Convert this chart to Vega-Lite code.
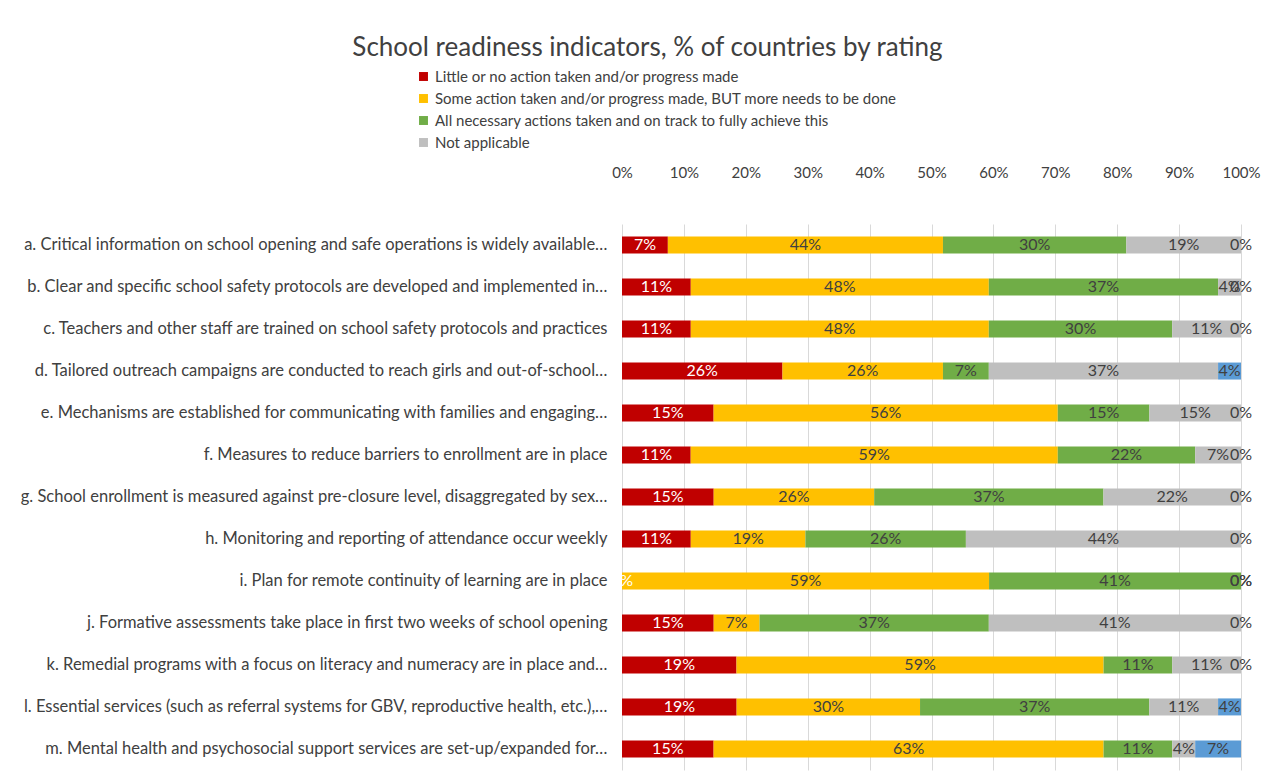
{
  "$schema": "https://vega.github.io/schema/vega-lite/v6.json",
  "width": 619,
  "height": 546,
  "autosize": {"type": "none"},
  "padding": {"left": 622, "top": 224, "right": 28, "bottom": 10},
  "background": "white",
  "config": {"view": {"stroke": null}, "font": "Lato"},
  "title": {
    "text": "School readiness indicators, % of countries by rating",
    "anchor": "middle",
    "frame": "group",
    "dx": -284,
    "fontSize": 26,
    "fontWeight": "normal",
    "color": "#404040",
    "font": "Lato",
    "offset": 8
  },
  "data": {"values": [
    {"indicator": "a. Critical information on school opening and safe operations is widely available…", "rating": "Little or no action taken and/or progress made", "order": 1, "share": 0.074},
    {"indicator": "a. Critical information on school opening and safe operations is widely available…", "rating": "Some action taken and/or progress made, BUT more needs to be done", "order": 2, "share": 0.444},
    {"indicator": "a. Critical information on school opening and safe operations is widely available…", "rating": "All necessary actions taken and on track to fully achieve this", "order": 3, "share": 0.296},
    {"indicator": "a. Critical information on school opening and safe operations is widely available…", "rating": "Not applicable", "order": 4, "share": 0.185},
    {"indicator": "a. Critical information on school opening and safe operations is widely available…", "rating": "No response", "order": 5, "share": 0},
    {"indicator": "b. Clear and specific school safety protocols are developed and implemented in…", "rating": "Little or no action taken and/or progress made", "order": 1, "share": 0.111},
    {"indicator": "b. Clear and specific school safety protocols are developed and implemented in…", "rating": "Some action taken and/or progress made, BUT more needs to be done", "order": 2, "share": 0.481},
    {"indicator": "b. Clear and specific school safety protocols are developed and implemented in…", "rating": "All necessary actions taken and on track to fully achieve this", "order": 3, "share": 0.370},
    {"indicator": "b. Clear and specific school safety protocols are developed and implemented in…", "rating": "Not applicable", "order": 4, "share": 0.037},
    {"indicator": "b. Clear and specific school safety protocols are developed and implemented in…", "rating": "No response", "order": 5, "share": 0},
    {"indicator": "c. Teachers and other staff are trained on school safety protocols and practices", "rating": "Little or no action taken and/or progress made", "order": 1, "share": 0.111},
    {"indicator": "c. Teachers and other staff are trained on school safety protocols and practices", "rating": "Some action taken and/or progress made, BUT more needs to be done", "order": 2, "share": 0.481},
    {"indicator": "c. Teachers and other staff are trained on school safety protocols and practices", "rating": "All necessary actions taken and on track to fully achieve this", "order": 3, "share": 0.296},
    {"indicator": "c. Teachers and other staff are trained on school safety protocols and practices", "rating": "Not applicable", "order": 4, "share": 0.111},
    {"indicator": "c. Teachers and other staff are trained on school safety protocols and practices", "rating": "No response", "order": 5, "share": 0},
    {"indicator": "d. Tailored outreach campaigns are conducted to reach girls and out-of-school…", "rating": "Little or no action taken and/or progress made", "order": 1, "share": 0.259},
    {"indicator": "d. Tailored outreach campaigns are conducted to reach girls and out-of-school…", "rating": "Some action taken and/or progress made, BUT more needs to be done", "order": 2, "share": 0.259},
    {"indicator": "d. Tailored outreach campaigns are conducted to reach girls and out-of-school…", "rating": "All necessary actions taken and on track to fully achieve this", "order": 3, "share": 0.074},
    {"indicator": "d. Tailored outreach campaigns are conducted to reach girls and out-of-school…", "rating": "Not applicable", "order": 4, "share": 0.370},
    {"indicator": "d. Tailored outreach campaigns are conducted to reach girls and out-of-school…", "rating": "No response", "order": 5, "share": 0.037},
    {"indicator": "e. Mechanisms are established for communicating with families and engaging…", "rating": "Little or no action taken and/or progress made", "order": 1, "share": 0.148},
    {"indicator": "e. Mechanisms are established for communicating with families and engaging…", "rating": "Some action taken and/or progress made, BUT more needs to be done", "order": 2, "share": 0.556},
    {"indicator": "e. Mechanisms are established for communicating with families and engaging…", "rating": "All necessary actions taken and on track to fully achieve this", "order": 3, "share": 0.148},
    {"indicator": "e. Mechanisms are established for communicating with families and engaging…", "rating": "Not applicable", "order": 4, "share": 0.148},
    {"indicator": "e. Mechanisms are established for communicating with families and engaging…", "rating": "No response", "order": 5, "share": 0},
    {"indicator": "f. Measures to reduce barriers to enrollment are in place", "rating": "Little or no action taken and/or progress made", "order": 1, "share": 0.111},
    {"indicator": "f. Measures to reduce barriers to enrollment are in place", "rating": "Some action taken and/or progress made, BUT more needs to be done", "order": 2, "share": 0.593},
    {"indicator": "f. Measures to reduce barriers to enrollment are in place", "rating": "All necessary actions taken and on track to fully achieve this", "order": 3, "share": 0.222},
    {"indicator": "f. Measures to reduce barriers to enrollment are in place", "rating": "Not applicable", "order": 4, "share": 0.074},
    {"indicator": "f. Measures to reduce barriers to enrollment are in place", "rating": "No response", "order": 5, "share": 0},
    {"indicator": "g. School enrollment is measured against pre-closure level, disaggregated by sex…", "rating": "Little or no action taken and/or progress made", "order": 1, "share": 0.148},
    {"indicator": "g. School enrollment is measured against pre-closure level, disaggregated by sex…", "rating": "Some action taken and/or progress made, BUT more needs to be done", "order": 2, "share": 0.259},
    {"indicator": "g. School enrollment is measured against pre-closure level, disaggregated by sex…", "rating": "All necessary actions taken and on track to fully achieve this", "order": 3, "share": 0.370},
    {"indicator": "g. School enrollment is measured against pre-closure level, disaggregated by sex…", "rating": "Not applicable", "order": 4, "share": 0.222},
    {"indicator": "g. School enrollment is measured against pre-closure level, disaggregated by sex…", "rating": "No response", "order": 5, "share": 0},
    {"indicator": "h. Monitoring and reporting of attendance occur weekly", "rating": "Little or no action taken and/or progress made", "order": 1, "share": 0.111},
    {"indicator": "h. Monitoring and reporting of attendance occur weekly", "rating": "Some action taken and/or progress made, BUT more needs to be done", "order": 2, "share": 0.185},
    {"indicator": "h. Monitoring and reporting of attendance occur weekly", "rating": "All necessary actions taken and on track to fully achieve this", "order": 3, "share": 0.259},
    {"indicator": "h. Monitoring and reporting of attendance occur weekly", "rating": "Not applicable", "order": 4, "share": 0.444},
    {"indicator": "h. Monitoring and reporting of attendance occur weekly", "rating": "No response", "order": 5, "share": 0},
    {"indicator": "i. Plan for remote continuity of learning are in place", "rating": "Little or no action taken and/or progress made", "order": 1, "share": 0},
    {"indicator": "i. Plan for remote continuity of learning are in place", "rating": "Some action taken and/or progress made, BUT more needs to be done", "order": 2, "share": 0.593},
    {"indicator": "i. Plan for remote continuity of learning are in place", "rating": "All necessary actions taken and on track to fully achieve this", "order": 3, "share": 0.407},
    {"indicator": "i. Plan for remote continuity of learning are in place", "rating": "Not applicable", "order": 4, "share": 0},
    {"indicator": "i. Plan for remote continuity of learning are in place", "rating": "No response", "order": 5, "share": 0},
    {"indicator": "j. Formative assessments take place in first two weeks of school opening", "rating": "Little or no action taken and/or progress made", "order": 1, "share": 0.148},
    {"indicator": "j. Formative assessments take place in first two weeks of school opening", "rating": "Some action taken and/or progress made, BUT more needs to be done", "order": 2, "share": 0.074},
    {"indicator": "j. Formative assessments take place in first two weeks of school opening", "rating": "All necessary actions taken and on track to fully achieve this", "order": 3, "share": 0.370},
    {"indicator": "j. Formative assessments take place in first two weeks of school opening", "rating": "Not applicable", "order": 4, "share": 0.407},
    {"indicator": "j. Formative assessments take place in first two weeks of school opening", "rating": "No response", "order": 5, "share": 0},
    {"indicator": "k. Remedial programs with a focus on literacy and numeracy are in place and…", "rating": "Little or no action taken and/or progress made", "order": 1, "share": 0.185},
    {"indicator": "k. Remedial programs with a focus on literacy and numeracy are in place and…", "rating": "Some action taken and/or progress made, BUT more needs to be done", "order": 2, "share": 0.593},
    {"indicator": "k. Remedial programs with a focus on literacy and numeracy are in place and…", "rating": "All necessary actions taken and on track to fully achieve this", "order": 3, "share": 0.111},
    {"indicator": "k. Remedial programs with a focus on literacy and numeracy are in place and…", "rating": "Not applicable", "order": 4, "share": 0.111},
    {"indicator": "k. Remedial programs with a focus on literacy and numeracy are in place and…", "rating": "No response", "order": 5, "share": 0},
    {"indicator": "l. Essential services (such as referral systems for GBV, reproductive health, etc.),…", "rating": "Little or no action taken and/or progress made", "order": 1, "share": 0.185},
    {"indicator": "l. Essential services (such as referral systems for GBV, reproductive health, etc.),…", "rating": "Some action taken and/or progress made, BUT more needs to be done", "order": 2, "share": 0.296},
    {"indicator": "l. Essential services (such as referral systems for GBV, reproductive health, etc.),…", "rating": "All necessary actions taken and on track to fully achieve this", "order": 3, "share": 0.370},
    {"indicator": "l. Essential services (such as referral systems for GBV, reproductive health, etc.),…", "rating": "Not applicable", "order": 4, "share": 0.111},
    {"indicator": "l. Essential services (such as referral systems for GBV, reproductive health, etc.),…", "rating": "No response", "order": 5, "share": 0.037},
    {"indicator": "m. Mental health and psychosocial support services are set-up/expanded for…", "rating": "Little or no action taken and/or progress made", "order": 1, "share": 0.148},
    {"indicator": "m. Mental health and psychosocial support services are set-up/expanded for…", "rating": "Some action taken and/or progress made, BUT more needs to be done", "order": 2, "share": 0.630},
    {"indicator": "m. Mental health and psychosocial support services are set-up/expanded for…", "rating": "All necessary actions taken and on track to fully achieve this", "order": 3, "share": 0.111},
    {"indicator": "m. Mental health and psychosocial support services are set-up/expanded for…", "rating": "Not applicable", "order": 4, "share": 0.037},
    {"indicator": "m. Mental health and psychosocial support services are set-up/expanded for…", "rating": "No response", "order": 5, "share": 0.074}
  ]},
  "transform": [
    {"stack": "share", "groupby": ["indicator"], "sort": [{"field": "order", "order": "ascending"}], "offset": "normalize", "as": ["x0", "x1"]},
    {"calculate": "(datum.x0 + datum.x1) / 2", "as": "xmid"}
  ],
  "encoding": {
    "y": {
      "field": "indicator",
      "type": "nominal",
      "sort": null,
      "scale": {"paddingInner": 0.595, "paddingOuter": 0.3},
      "axis": {
        "title": null,
        "domain": false,
        "ticks": false,
        "labelFontSize": 16.5,
        "labelColor": "#404040",
        "labelLimit": 620,
        "labelPadding": 15,
        "labelFont": "Lato"
      }
    }
  },
  "layer": [
    {
      "mark": {"type": "bar"},
      "encoding": {
        "x": {
          "field": "x0",
          "type": "quantitative",
          "scale": {"domain": [0, 1], "nice": false},
          "axis": {
            "orient": "top",
            "format": ".0%",
            "values": [0, 0.1, 0.2, 0.3, 0.4, 0.5, 0.6, 0.7, 0.8, 0.9, 1],
            "title": null,
            "domain": false,
            "ticks": false,
            "grid": true,
            "gridColor": "#d9d9d9",
            "gridWidth": 1,
            "labelFontSize": 15,
            "labelColor": "#404040",
            "labelPadding": 44,
            "labelFont": "Lato",
            "labelFlush": false
          }
        },
        "x2": {"field": "x1"},
        "color": {
          "field": "rating",
          "type": "nominal",
          "scale": {
            "domain": ["Little or no action taken and/or progress made", "Some action taken and/or progress made, BUT more needs to be done", "All necessary actions taken and on track to fully achieve this", "Not applicable", "No response"],
            "range": ["#C00000", "#FFC000", "#70AD47", "#BFBFBF", "#5B9BD5"]
          },
          "legend": {
            "values": ["Little or no action taken and/or progress made", "Some action taken and/or progress made, BUT more needs to be done", "All necessary actions taken and on track to fully achieve this", "Not applicable"],
            "title": null,
            "orient": "none",
            "legendX": -206,
            "legendY": -155,
            "symbolType": "square",
            "symbolSize": 80,
            "symbolStrokeWidth": 0,
            "labelFontSize": 15,
            "labelColor": "#404040",
            "labelFont": "Lato",
            "labelLimit": 600,
            "rowPadding": 6,
            "labelOffset": 4
          }
        }
      }
    },
    {
      "mark": {"type": "text", "fontSize": 16, "font": "Lato", "baseline": "middle", "align": "center"},
      "encoding": {
        "x": {"field": "xmid", "type": "quantitative"},
        "text": {"field": "share", "type": "quantitative", "format": ".0%"},
        "color": {
          "condition": {"test": "datum.order === 1", "value": "white"},
          "value": "#404040"
        }
      }
    }
  ]
}
